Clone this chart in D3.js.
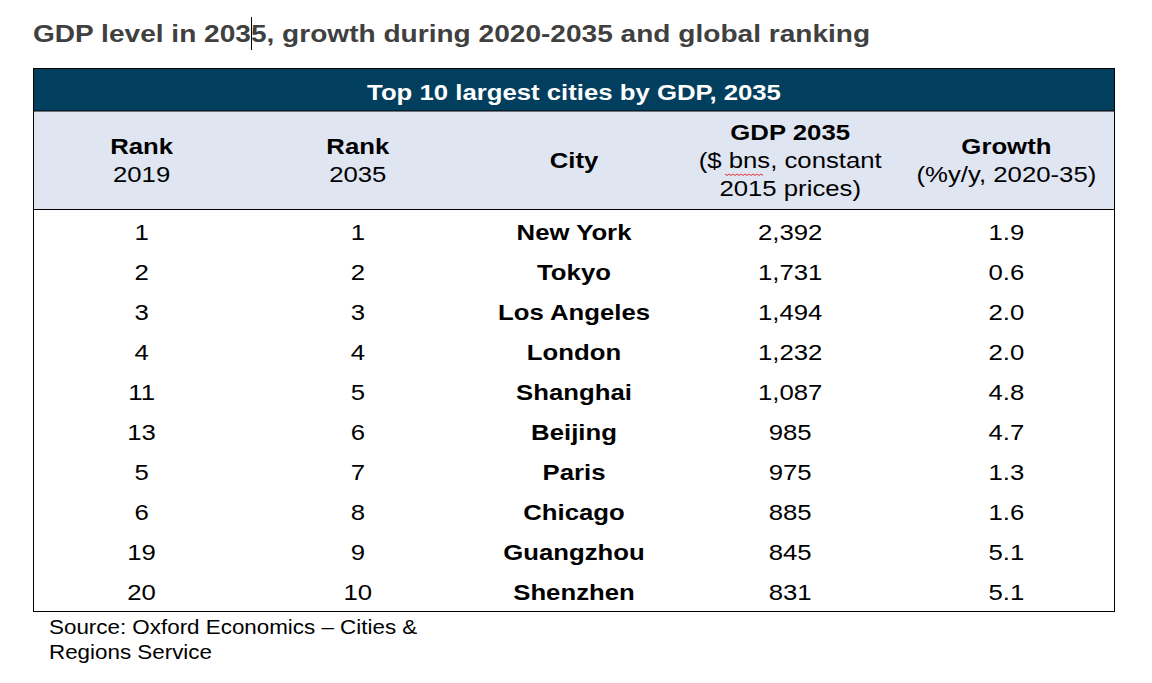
<!DOCTYPE html>
<html><head><meta charset="utf-8">
<script src="https://cdn.jsdelivr.net/npm/d3@7"></script>
<style>body{margin:0;background:#fff;} svg{display:block;font-family:"Liberation Sans",Arial,sans-serif;}</style>
</head><body>
<script>
const rank2019 = [1, 2, 3, 4, 11, 13, 5, 6, 19, 20];
const rank2035 = [1, 2, 3, 4, 5, 6, 7, 8, 9, 10];
const cities = ["New York","Tokyo","Los Angeles","London","Shanghai","Beijing","Paris","Chicago","Guangzhou","Shenzhen"];
const gdp2035 = [2392, 1731, 1494, 1232, 1087, 985, 975, 885, 845, 831];
const growth = [1.9, 0.6, 2.0, 2.0, 4.8, 4.7, 1.3, 1.6, 5.1, 5.1];
const columns = ["rank2019","rank2035","city","gdp","growth"];
const headers = [
  [{t:"Rank",b:true},{t:"2019",b:false}],
  [{t:"Rank",b:true},{t:"2035",b:false}],
  [{t:"City",b:true}],
  [{t:"GDP 2035",b:true},{t:"($ bns, constant",b:false},{t:"2015 prices)",b:false}],
  [{t:"Growth",b:true},{t:"(%y/y, 2020-35)",b:false}]
];
const title = "GDP level in 2035, growth during 2020-2035 and global ranking";
const banner = "Top 10 largest cities by GDP, 2035";
const source = ["Source: Oxford Economics \u2013 Cities &", "Regions Service"];

(function(){
const W = 1152, H = 683;
const S = 1.17;
const svg = d3.select("body").append("svg").attr("width", W).attr("height", H);
const tLeft = 33.5, tRight = 1114.5, tTop = 68.5, bannerBottom = 111, headBottom = 209.5, tBottom = 611.5;

function txt(parent, px, py, str, o) {
  return parent.append("text")
    .attr("transform", "translate(" + px + "," + py + ") scale(" + (o.s || S) + ",1)")
    .attr("x", 0).attr("y", 0)
    .attr("text-anchor", o.anchor || "start")
    .attr("font-size", o.size)
    .attr("font-weight", o.bold ? "bold" : "normal")
    .attr("fill", o.fill || "#000")
    .text(str);
}

const x = d3.scaleBand().domain(columns).range([tLeft, tRight]);
const y = d3.scaleBand().domain(d3.range(cities.length)).range([212, 612]);

txt(svg, 33, 42, title, {size: 24, bold: true, fill: "#404040"});
svg.append("line").attr("x1", 251.5).attr("x2", 251.5).attr("y1", 17).attr("y2", 50).attr("stroke", "#000").attr("stroke-width", 1);

svg.append("rect").attr("x", tLeft).attr("y", tTop).attr("width", tRight - tLeft).attr("height", bannerBottom - tTop).attr("fill", "#023e5d");
txt(svg, (tLeft + tRight) / 2, 100, banner, {size: 22, bold: true, fill: "#fff", anchor: "middle"});

svg.append("rect").attr("x", tLeft).attr("y", bannerBottom).attr("width", tRight - tLeft).attr("height", headBottom - bannerBottom).attr("fill", "#e0e5f2");
svg.append("line").attr("x1", tLeft).attr("x2", tRight).attr("y1", bannerBottom).attr("y2", bannerBottom).attr("stroke", "#000").attr("stroke-width", 1);
svg.append("line").attr("x1", tLeft).attr("x2", tRight).attr("y1", headBottom).attr("y2", headBottom).attr("stroke", "#000").attr("stroke-width", 1);

const headMid = (bannerBottom + headBottom) / 2;
const lineH = 28;
columns.forEach((c, i) => {
  const lines = headers[i];
  const cx = x(c) + x.bandwidth() / 2;
  const startY = headMid - (lines.length - 1) * lineH / 2 + 8;
  lines.forEach((l, j) => {
    txt(svg, cx, startY + j * lineH, l.t, {size: 22, bold: l.b, anchor: "middle"});
  });
});

(function(){
  const x0 = 725, x1 = 762, yy = 174;
  let p = "M" + x0 + "," + yy;
  for (let xx = x0, k = 0; xx < x1; xx += 2, k++) p += " L" + (xx + 2) + "," + (yy + (k % 2 ? 0 : 1.5));
  svg.append("path").attr("d", p).attr("fill", "none").attr("stroke", "#e03030").attr("stroke-width", 1);
})();

const fmt = d3.format(",");
const rows = cities.map((c, i) => ({
  rank2019: String(rank2019[i]), rank2035: String(rank2035[i]), city: c,
  gdp: fmt(gdp2035[i]), growth: growth[i].toFixed(1)
}));
const g = svg.append("g");
rows.forEach((r, i) => {
  const cy = y(i) + y.bandwidth() / 2;
  columns.forEach(c => {
    txt(g, x(c) + x.bandwidth() / 2, cy + 8, r[c], {size: 22, bold: c === "city", anchor: "middle"});
  });
});

svg.append("rect").attr("x", tLeft).attr("y", tTop).attr("width", tRight - tLeft).attr("height", tBottom - tTop)
  .attr("fill", "none").attr("stroke", "#000").attr("stroke-width", 1);

source.forEach((s, i) => {
  txt(svg, 49, 634 + i * 25, s, {size: 20, s: 1.12});
});
})();
</script>
</body></html>
